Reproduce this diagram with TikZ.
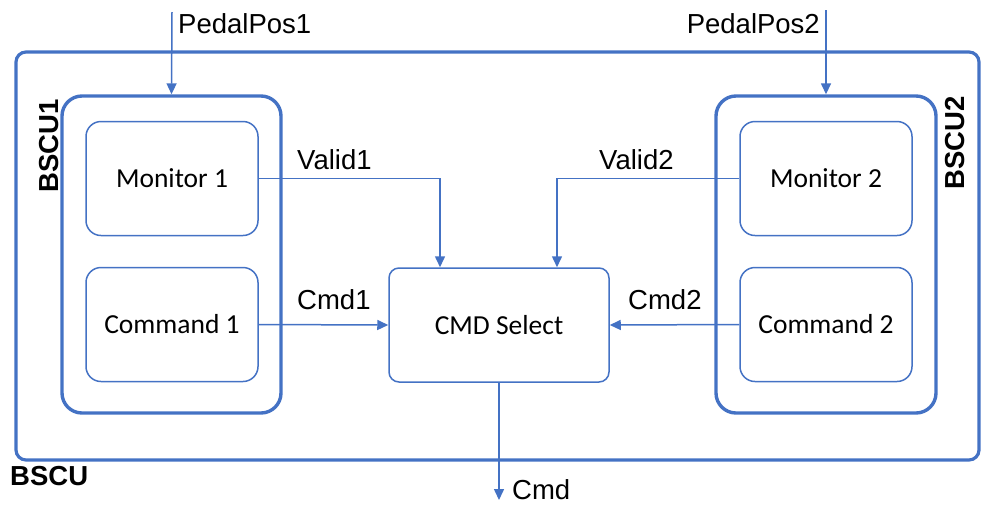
\documentclass[tikz,border=0pt]{standalone}
\usepackage{fontspec}
\setmainfont{Carlito}
\newfontfamily\arial{Liberation Sans}
\usetikzlibrary{arrows.meta}
\definecolor{ob}{HTML}{4472C4}
\begin{document}
\begin{tikzpicture}[x=1pt,y=-1pt,
 outerbox/.style={draw=ob,line width=3.2pt,rounded corners=10pt,inner sep=0pt},
 unitbox/.style={draw=ob,line width=3.4pt,rounded corners=20pt,inner sep=0pt},
 blockbox/.style={draw=ob,line width=1.5pt,rounded corners=15pt,inner sep=0pt,minimum width=172pt,minimum height=114pt,font=\fontsize{27.5}{30}\selectfont},
 arr/.style={draw=ob,line width=1.5pt,-{Triangle[length=11pt,width=10pt]}},
 lbl/.style={font=\arial\fontsize{27.5}{30}\selectfont,inner sep=0pt},
 blbl/.style={font=\arial\bfseries\fontsize{27.5}{30}\selectfont,inner sep=0pt}]
\useasboundingbox (0,0) rectangle (981,504);
\node[outerbox,minimum width=963pt,minimum height=408pt] (bscu) at (497.5,256) {};
\node[unitbox,minimum width=219pt,minimum height=317pt] (bscu1) at (171.5,254.5) {};
\node[unitbox,minimum width=220pt,minimum height=317pt] (bscu2) at (826,254.5) {};
\node[blockbox] (mon1) at (172,178.5) {Monitor 1};
\node[blockbox] (com1) at (172,324.5) {Command 1};
\node[blockbox] (mon2) at (826,178.5) {Monitor 2};
\node[blockbox] (com2) at (826,324.5) {Command 2};
\node[blockbox,minimum width=220pt,rounded corners=10pt] (sel) at (499,325) {CMD Select};
\node[lbl,anchor=west] (lpp1) at (178,24) {PedalPos1};
\node[lbl,anchor=east] (lpp2) at (820,24) {PedalPos2};
\node[lbl,anchor=west] (lv1) at (297,160) {Valid1};
\node[lbl,anchor=west] (lc1) at (297,300) {Cmd1};
\node[lbl,anchor=west] (lv2) at (599,160) {Valid2};
\node[lbl,anchor=west] (lc2) at (628,300) {Cmd2};
\node[lbl,anchor=west] (lcmd) at (512,490) {Cmd};
\node[blbl,rotate=90] (t1) at (49,146) {BSCU1};
\node[blbl,rotate=90] (t2) at (955,143) {BSCU2};
\node[blbl,anchor=west] (t0) at (10,476) {BSCU};
\coordinate (pp1) at (172,12);
\coordinate (pp2) at (826,10);
\coordinate (out) at (499,500);
\draw[arr] (pp1) -- (bscu1.north);
\draw[arr] (pp2) -- (bscu2.north);
\draw[arr] (mon1.east) -| ([xshift=-59pt]sel.north);
\draw[arr] (mon2.west) -| ([xshift=58pt]sel.north);
\draw[arr] (com1.east) -- (sel.west);
\draw[arr] (com2.west) -- (sel.east);
\draw[arr] (sel.south) -- (out);
\end{tikzpicture}
\end{document}
